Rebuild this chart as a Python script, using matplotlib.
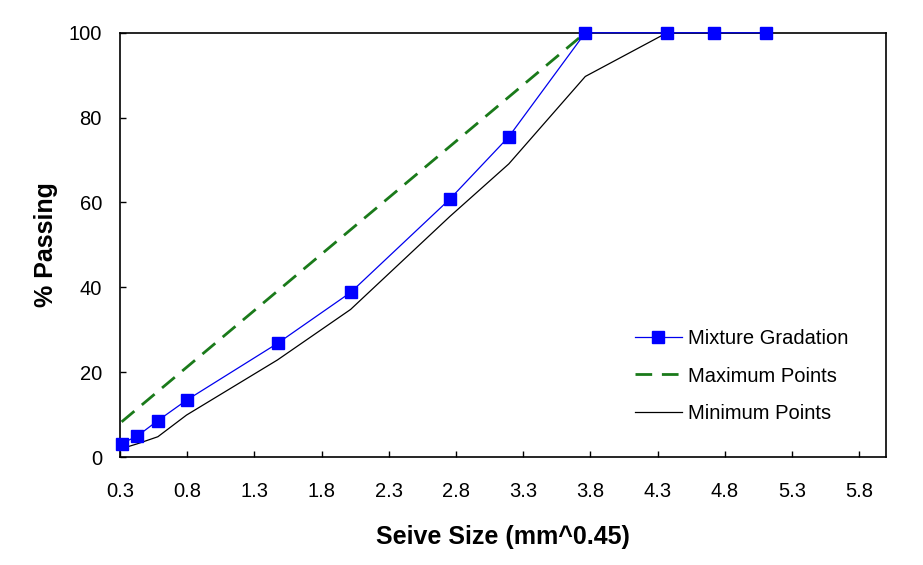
import matplotlib
matplotlib.use("Agg")
import matplotlib.pyplot as plt

plt.rcParams['font.family'] = ['Liberation Sans', 'DejaVu Sans']

sieve_x = [0.312, 0.426, 0.582, 0.795, 1.472, 2.016, 2.754, 3.193, 3.762, 4.37, 4.72, 5.11]
mixture = [3.2, 4.9, 8.6, 13.4, 26.8, 38.8, 60.8, 75.5, 100, 100, 100, 100]
minimum = [2.0, 3.1, 4.8, 9.9, 22.9, 34.8, 56.7, 69.1, 89.7, 100, 100, 100]
max_x = [0.312, 3.762, 3.83]
max_y = [8.3, 100, 101.8]
xticks = [0.3, 0.8, 1.3, 1.8, 2.3, 2.8, 3.3, 3.8, 4.3, 4.8, 5.3, 5.8]
yticks = [0, 20, 40, 60, 80, 100]

fig = plt.figure(figsize=(9.23, 5.65), dpi=100)
ax = fig.add_axes([0.130, 0.191, 0.830, 0.751])

ax.plot(sieve_x, mixture, color='#0000ee', lw=0.9, marker='s', markersize=8.5,
        markerfacecolor='#0000ff', markeredgecolor='#0000ff', label='Mixture Gradation', zorder=4, clip_on=False)
ax.plot(max_x, max_y, color='#1a7a1a', lw=2.0, ls=(0, (6, 3.5)), label='Maximum Points', zorder=3)
ax.plot(sieve_x, minimum, color='black', lw=0.9, label='Minimum Points', zorder=3)

ax.set_xlim(0.3, 6.0)
ax.set_ylim(0, 100)
ax.set_xticks(xticks)
ax.set_xticklabels([f"{t:.1f}" for t in xticks])
ax.set_yticks(yticks)
ax.tick_params(direction='in', length=4, width=1, labelsize=14.5)
ax.tick_params(axis='x', pad=18)
ax.tick_params(axis='y', pad=13)
for s in ax.spines.values():
    s.set_linewidth(1.2)

ax.set_xlabel('Seive Size (mm^0.45)', fontsize=18, fontweight='bold')
ax.set_ylabel('% Passing', fontsize=18, fontweight='bold')
ax.xaxis.set_label_coords(0.5, -0.161)
ax.yaxis.set_label_coords(-0.081, 0.5)

leg = ax.legend(loc='center left', bbox_to_anchor=(0.672, 0.191), frameon=False, fontsize=14.5,
                handlelength=2.35, handletextpad=0.3, labelspacing=0.92,
                borderpad=0, borderaxespad=0)

fig.savefig('out.png', dpi=100)
